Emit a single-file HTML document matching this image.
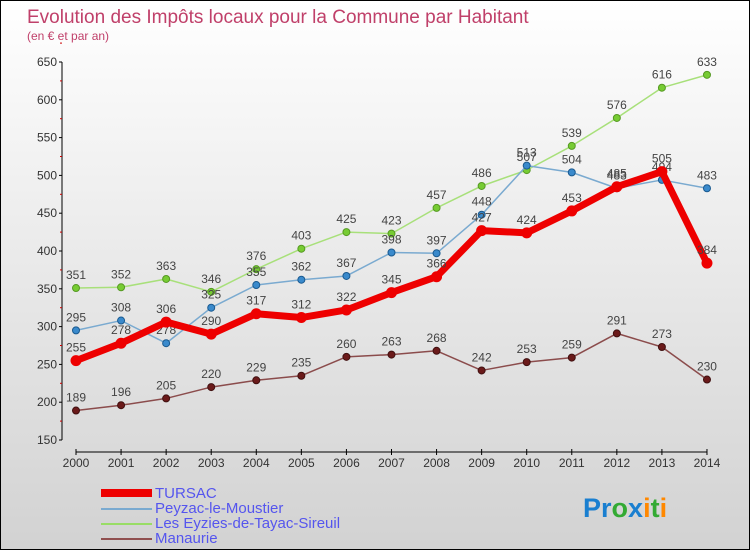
<!DOCTYPE html>
<html><head><meta charset="utf-8"><style>
body{margin:0}
#c{width:748px;height:548px;border:1px solid #000;background:linear-gradient(#fff,#d2d2d2);position:relative;font-family:"Liberation Sans",sans-serif;overflow:hidden}
</style></head><body>
<div id="c">
<svg id="s" width="748" height="548">
<text x="26" y="22" font-size="19" fill="#c0406a">Evolution des Impôts locaux pour la Commune par Habitant</text>
<text x="26" y="39" font-size="12" fill="#c0406a">(en € et par an)</text>
<g id="axes"></g><g id="series"></g>
<g font-size="15" fill="#5555ee">
<rect x="100" y="488" width="51" height="8" fill="#e00"/>
<text x="154" y="497">TURSAC</text>
<rect x="100" y="507" width="51" height="2" fill="#7aaad0"/>
<text x="154" y="512">Peyzac-le-Moustier</text>
<rect x="100" y="522" width="51" height="2" fill="#99dd66"/>
<text x="154" y="527">Les Eyzies-de-Tayac-Sireuil</text>
<rect x="100" y="537" width="51" height="2" fill="#905050"/>
<text x="154" y="542">Manaurie</text>
</g>
<text x="582" y="516" font-size="27" font-weight="bold"><tspan fill="#1a7fd0">Pr</tspan><tspan fill="#3a3">o</tspan><tspan fill="#1a7fd0">x</tspan><tspan fill="#f80">i</tspan><tspan fill="#3a3">t</tspan><tspan fill="#f80">i</tspan></text>
</svg></div>
<script>
const years=[2000,2001,2002,2003,2004,2005,2006,2007,2008,2009,2010,2011,2012,2013,2014];
const yTicks=[150,200,250,300,350,400,450,500,550,600,650];
const tursac=[255,278,306,290,317,312,322,345,366,427,424,453,485,505,384];
const peyzac=[295,308,278,325,355,362,367,398,397,448,513,504,483,494,483];
const eyzies=[351,352,363,346,376,403,425,423,457,486,507,539,576,616,633];
const manaurie=[189,196,205,220,229,235,260,263,268,242,253,259,291,273,230];
const NS='http://www.w3.org/2000/svg';
const X=i=>75+i*45.07, Y=v=>439-(v-150)*0.756;
function mk(p,t,a){const e=document.createElementNS(NS,t);for(const k in a)e.setAttribute(k,a[k]);p.appendChild(e);return e;}
const ax=document.getElementById('axes'), se=document.getElementById('series');
let e=mk(ax,'line',{x1:61,y1:Y(650),x2:61,y2:Y(150),stroke:'#000'});


yTicks.forEach(v=>{mk(ax,'line',{x1:58,x2:61,y1:Y(v),y2:Y(v),stroke:'#000'});
 mk(ax,'line',{x1:59,x2:61,y1:Y(v+25),y2:Y(v+25),stroke:'#c00'});
 const t=mk(ax,'text',{x:56,y:Y(v)+4,'font-size':12,'text-anchor':'end',fill:'#333'});t.textContent=v;
 
 });
e=mk(ax,'line',{x1:75,y1:451,x2:X(14),y2:451,stroke:'#000'});


years.forEach((y,i)=>{mk(ax,'line',{x1:X(i),x2:X(i),y1:448,y2:454,stroke:'#000'});
 const t=mk(ax,'text',{x:X(i),y:466,'font-size':12,'text-anchor':'middle',fill:'#333'});t.textContent=y;
 
 });
function draw(d,name,col,w,dot,dc,r){
 const g=mk(se,'g',{});
 
 
 mk(g,'polyline',{points:d.map((v,i)=>X(i)+','+Y(v)).join(' '),fill:'none',stroke:col,'stroke-width':w,'stroke-linejoin':'round'});
 d.forEach((v,i)=>{const c=mk(g,'circle',{cx:X(i),cy:Y(v),r:r,fill:dot,stroke:dc,'stroke-width':1});
  
  
  const t=mk(g,'text',{x:X(i),y:Y(v)-9,'font-size':12,'text-anchor':'middle',fill:'#444'});t.textContent=v;
  
  });
}
draw(manaurie,'manaurie','#8b4c4c',1.5,'#6b1a1a','#401010',3.5);
draw(eyzies,'eyzies','#a8e07a',1.5,'#77cc33','#559922',3.5);
draw(peyzac,'peyzac','#7aaad0',1.5,'#3a8acc','#1a5a90',3.5);
draw(tursac,'tursac','#ee0000',7,'#ee0000','#ee0000',5);
</script>
</body></html>
